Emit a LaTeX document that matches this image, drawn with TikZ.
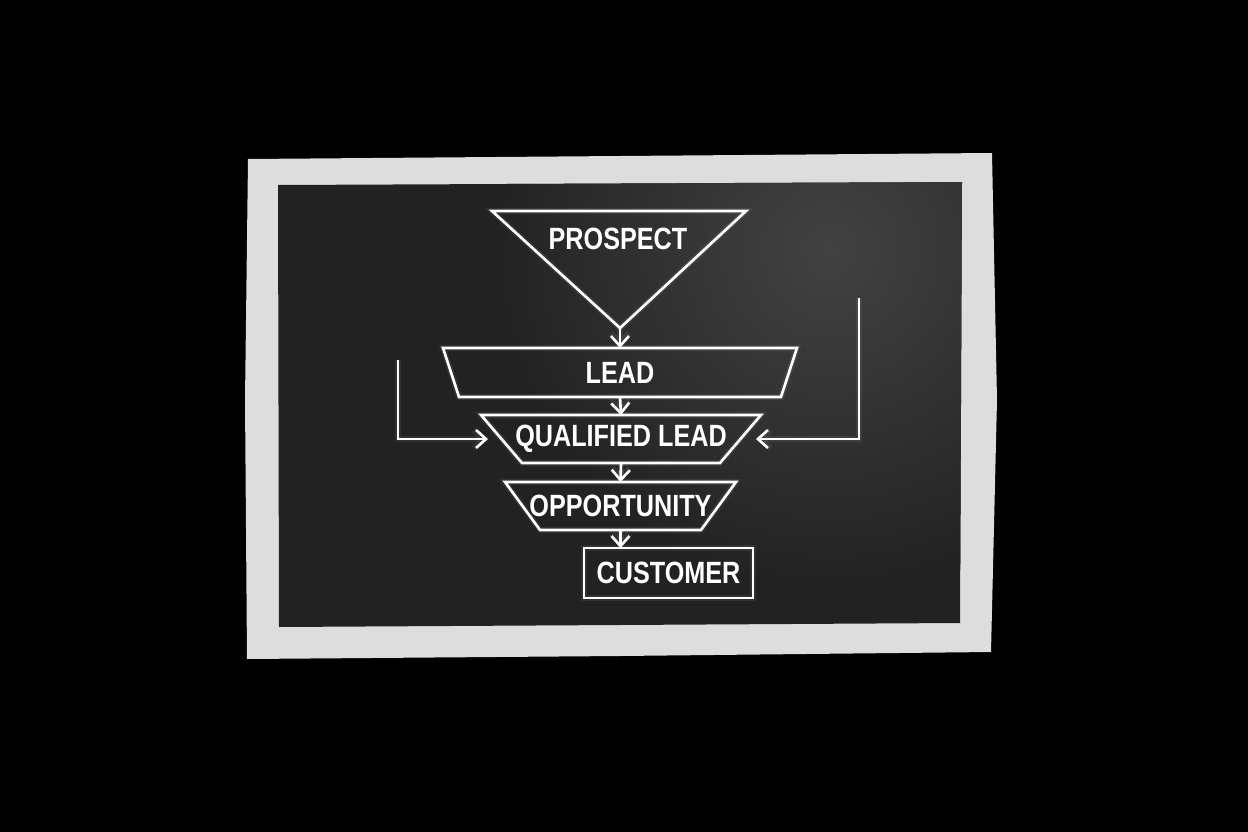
\documentclass[tikz,border=0pt]{standalone}
\usepackage{fontspec}
\setmainfont{Liberation Sans}[FakeStretch=0.82]
\usetikzlibrary{arrows.meta,calc}
\definecolor{boardgrey}{HTML}{222222}
\definecolor{boardlight}{HTML}{424242}
\definecolor{framegrey}{HTML}{DDDDDD}

\begin{document}
\begin{tikzpicture}[x=0.02cm, y=-0.02cm,
                    every stage/.style = {},
                    glow line/.style = {draw=white, line width=1.5pt, line join=miter,
                                        preaction={draw=white, opacity=0.07, line width=3.5pt}},
                    stage label/.style = {text=white, font=\fontsize{17.5}{20}\selectfont\bfseries},
                    stage/.style = {rectangle, stage label, inner sep=0pt, outer sep=0pt, every stage},
                    flow/.style = {glow line, -{Straight Barb[length=2mm,width=3.6mm]}}]
                % background and frame
                \fill[black] (0,0) rectangle (1248,832);
                \useasboundingbox (0,0) rectangle (1248,832);
                \fill[framegrey] (248,159) -- (620,156) -- (992,153) -- (997,400) -- (991,652) -- (620,656) -- (247,659) -- (245,400) -- cycle;
                \fill[boardgrey] (278,185) -- (962,182) -- (960,623) -- (279,627) -- cycle;
                \begin{scope}
                    \clip (278,185) -- (962,182) -- (960,623) -- (279,627) -- cycle;
                    \shade[inner color=boardlight, outer color=boardgrey] (830,250) circle[radius=6.8cm];
                \end{scope}
                % prospect triangle
                \coordinate (prospect tl) at (492,211);
                \coordinate (prospect tr) at (746,211);
                \coordinate (prospect tip) at (620,328);
                \draw[glow line] (prospect tl) -- (prospect tr) -- (prospect tip) -- cycle;
                \node at (618,239) [stage label] (prospect) {PROSPECT};
                % funnel stages
                \node at (620,372.5) [stage, minimum width=7.08cm, minimum height=0.98cm] (lead) {LEAD};
                \node at (621,439) [stage, minimum width=5.6cm, minimum height=0.96cm] (qualified) {QUALIFIED LEAD};
                \node at (620.5,506) [stage, minimum width=4.62cm, minimum height=0.96cm] (opportunity) {OPPORTUNITY};
                \node at (668.5,573) [stage, draw=white, glow line, minimum width=3.38cm, minimum height=1cm] (customer) {CUSTOMER};
                \draw[glow line] (lead.north west) -- (lead.north east) -- ($(lead.south east)+(-16,0)$) -- ($(lead.south west)+(16,0)$) -- cycle;
                \draw[glow line] (qualified.north west) -- (qualified.north east) -- ($(qualified.south east)+(-41,0)$) -- ($(qualified.south west)+(41,0)$) -- cycle;
                \draw[glow line] (opportunity.north west) -- (opportunity.north east) -- ($(opportunity.south east)+(-35,0)$) -- ($(opportunity.south west)+(35,0)$) -- cycle;
                % flow down
                \draw[flow] (prospect tip) -- (lead.north);
                \draw[flow] (lead.south) -- (qualified.north);
                \draw[flow] (qualified.south) -- (opportunity.north);
                \draw[flow] (opportunity.south) -- (opportunity.south |- customer.north);
                % side inputs
                \coordinate (left input) at (398,360);
                \coordinate (right input) at (859,298);
                \draw[flow] (left input) |- ([xshift=0.14cm]qualified.west);
                \draw[flow] (right input) |- ([xshift=-0.1cm]qualified.east);
            \end{tikzpicture}
\end{document}
